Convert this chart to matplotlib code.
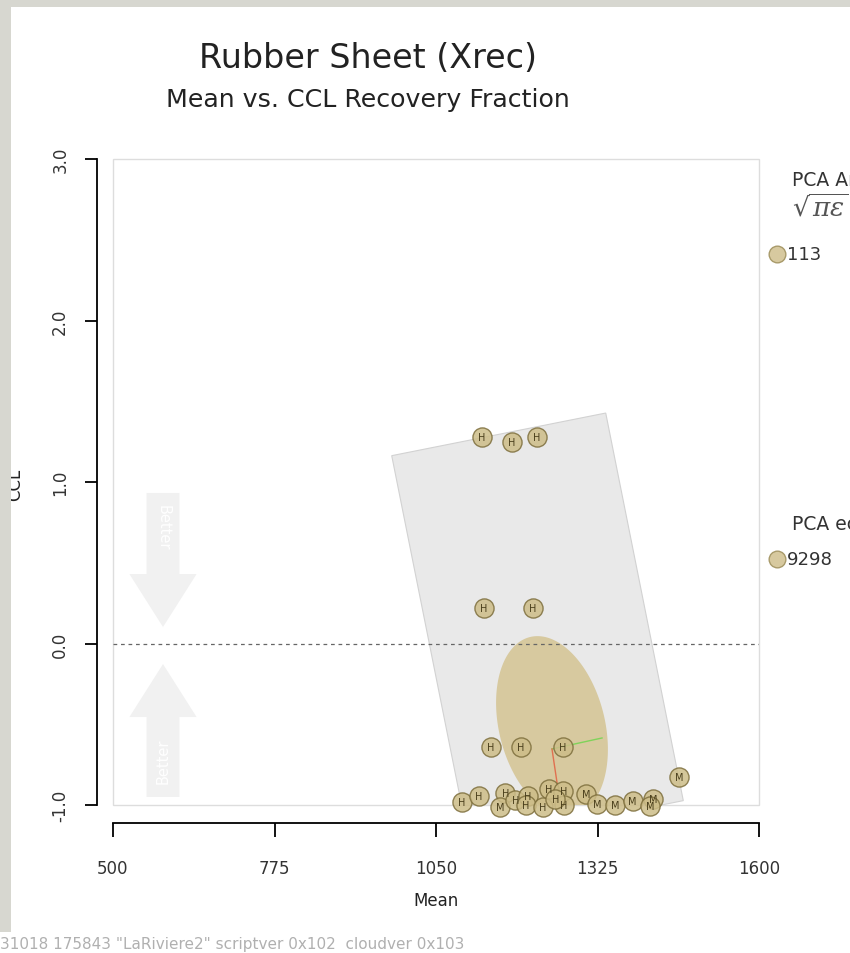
import matplotlib
matplotlib.use("Agg")
import matplotlib.pyplot as plt
import numpy as np
from matplotlib import font_manager
from matplotlib.patches import Rectangle, FancyArrow, Polygon
from matplotlib.lines import Line2D

# pick a narrow sans if one is installed
names = set(f.name for f in font_manager.fontManager.ttflist)
font = 'DejaVu Sans'
for cand in ['DejaVu Sans Condensed', 'Liberation Sans Narrow']:
    if cand in names:
        font = cand
        break
plt.rcParams['font.family'] = [font, 'DejaVu Sans']

# data
pt_mean = [1128, 1179, 1222, 1131, 1215, 1143, 1195, 1266, 1464,
           1094, 1123, 1168, 1159, 1185, 1206, 1203, 1232, 1242, 1267,
           1268, 1253, 1305, 1324, 1355, 1385, 1420, 1414]
pt_ccl = [1.277, 1.250, 1.280, 0.218, 0.218, -0.643, -0.643, -0.643, -0.829,
          -0.983, -0.946, -0.926, -1.011, -0.969, -0.947, -1.002, -1.011, -0.898, -0.916,
          -1.002, -0.963, -0.932, -0.994, -1.000, -0.973, -0.963, -1.004]
pt_label = ['H', 'H', 'H', 'H', 'H', 'H', 'H', 'H', 'M',
            'H', 'H', 'H', 'M', 'H', 'H', 'H', 'H', 'H', 'H',
            'H', 'H', 'M', 'M', 'M', 'M', 'M', 'M']

# rubber sheet rectangle corners (Mean, CCL)
sheet_mean = [974.6, 1339.0, 1471.1, 1106.7]
sheet_ccl = [1.163, 1.427, -0.973, -1.238]

# ellipse: centre and the two half axes (Mean, CCL)
ell_center = (1247.5, -0.511)
ell_major = (-37.5, 0.551)
ell_minor = (87.5, 0.079)

# principal axis lines
axis_origin = (1247.5, -0.653)
green_end = (1332.7, -0.585)
red_end = (1257.7, -0.901)

xticks = [500, 775, 1050, 1325, 1600]
yticks = [-1.0, 0.0, 1.0, 2.0, 3.0]
legend_vals = ['113', '9298']

W, H = 850, 954
fig = plt.figure(figsize=(W / 100, H / 100), dpi=100)
ax = fig.add_axes([113 / W, 1 - 806 / H, 646 / W, 646 / H])
ax.set_xlim(500, 1600)
ax.set_ylim(-1, 3)

# light frame around the plot region
ax.add_patch(Rectangle((0, 0), 1, 1, transform=ax.transAxes, fill=False,
                       edgecolor='#dddddd', lw=1, clip_on=False, zorder=0))
for s in ['top', 'right']:
    ax.spines[s].set_visible(False)
ax.spines['left'].set_position(('outward', 11.5))
ax.spines['bottom'].set_position(('outward', 13))
ax.spines['left'].set_linewidth(1.3)
ax.spines['bottom'].set_linewidth(1.3)
ax.set_xticks(xticks)
ax.set_xticklabels([str(v) for v in xticks])
ax.set_yticks(yticks)
ax.set_yticklabels(['%.1f' % v for v in yticks], rotation=90, va='center')
ax.tick_params(axis='x', length=10, width=1.3, pad=16, labelsize=12, labelcolor='#333333')
ax.tick_params(axis='y', length=9, width=1.3, pad=11, labelsize=12, labelcolor='#333333')
ax.set_xlabel('Mean', fontsize=12, color='#222222', labelpad=10)

# rubber sheet
sheet = Polygon(list(zip(sheet_mean, sheet_ccl)), closed=True, facecolor='#e9e9e9',
                edgecolor='#d2d2d2', lw=0.8, zorder=1)
ax.add_patch(sheet)

# ellipse
t = np.linspace(0, 2 * np.pi, 200)
ex = ell_center[0] + ell_major[0] * np.cos(t) + ell_minor[0] * np.sin(t)
ey = ell_center[1] + ell_major[1] * np.cos(t) + ell_minor[1] * np.sin(t)
ax.fill(ex, ey, color='#d7c99f', lw=0, zorder=2)

ax.axhline(0, color='#666666', lw=0.9, ls=(0, (3, 3)), zorder=2)

ax.plot([axis_origin[0], green_end[0]], [axis_origin[1], green_end[1]], color='#7fd35a', lw=1, zorder=3)
ax.plot([axis_origin[0], red_end[0]], [axis_origin[1], red_end[1]], color='#e07050', lw=1, zorder=3)

# better arrows
ax.add_patch(FancyArrow(0.0774, 0.483, 0, -0.2075, width=0.051, head_width=0.104,
                        head_length=0.082, length_includes_head=True, transform=ax.transAxes,
                        color='#f1f1f1', lw=0, zorder=1))
ax.add_patch(FancyArrow(0.0774, 0.0124, 0, 0.2058, width=0.051, head_width=0.104,
                        head_length=0.082, length_includes_head=True, transform=ax.transAxes,
                        color='#f1f1f1', lw=0, zorder=1))
ax.text(0.0774, 0.43, 'Better', rotation=-90, transform=ax.transAxes, ha='center', va='center',
        color='white', fontsize=10.5)
ax.text(0.0774, 0.07, 'Better', rotation=90, transform=ax.transAxes, ha='center', va='center',
        color='white', fontsize=10.5)

# points
ax.scatter(pt_mean, pt_ccl, s=190, facecolor='#cdbd88', edgecolor='#7d6e3c', linewidth=1,
           alpha=0.85, zorder=4, clip_on=False)
for x, y, lab in zip(pt_mean, pt_ccl, pt_label):
    ax.text(x, y, lab, ha='center', va='center', fontsize=7, color='#4a3f1c',
            zorder=5, clip_on=False)

# right side legend (cut by the image edge)
fig.text(792 / W, 1 - 181 / H, 'PCA Area', fontsize=13.5, color='#333333', va='center')
fig.text(792 / W, 1 - 209 / H, r'$\sqrt{\pi\epsilon}$', fontsize=19, color='#555555',
         va='center', math_fontfamily='dejavuserif')
fig.text(792 / W, 1 - 525 / H, 'PCA eccentricity', fontsize=13.5, color='#333333', va='center')
for ly, val in zip([255, 560], legend_vals):
    fig.add_artist(Line2D([777 / W], [1 - ly / H], marker='o', markersize=12,
                          markerfacecolor='#d7c99f', markeredgecolor='#a89a6a', lw=0))
    fig.text(787 / W, 1 - ly / H, val, fontsize=13, color='#333333', va='center')

# titles
fig.text(368 / W, 1 - 58 / H, 'Rubber Sheet (Xrec)', ha='center', va='center',
         fontsize=24, color='#222222')
fig.text(368 / W, 1 - 100 / H, 'Mean vs. CCL Recovery Fraction', ha='center', va='center',
         fontsize=18.2, color='#222222')

fig.text(15 / W, 1 - 485 / H, 'CCL', rotation=90, ha='center', va='center', fontsize=12,
         color='#222222')

fig.text(0, 1 - 945 / H, '31018 175843 "LaRiviere2" scriptver 0x102  cloudver 0x103',
         ha='left', va='center', fontsize=11, color='#b0b0b0')

# grey frame of the page
fig.add_artist(Rectangle((0, 21 / H), 11 / W, 1 - 21 / H, transform=fig.transFigure,
                         facecolor='#d7d7d0', lw=0, zorder=10))
fig.add_artist(Rectangle((0, 1 - 8 / H), 1, 8 / H, transform=fig.transFigure,
                         facecolor='#d7d7d0', lw=0, zorder=10))

fig.savefig('out.png', dpi=100)
